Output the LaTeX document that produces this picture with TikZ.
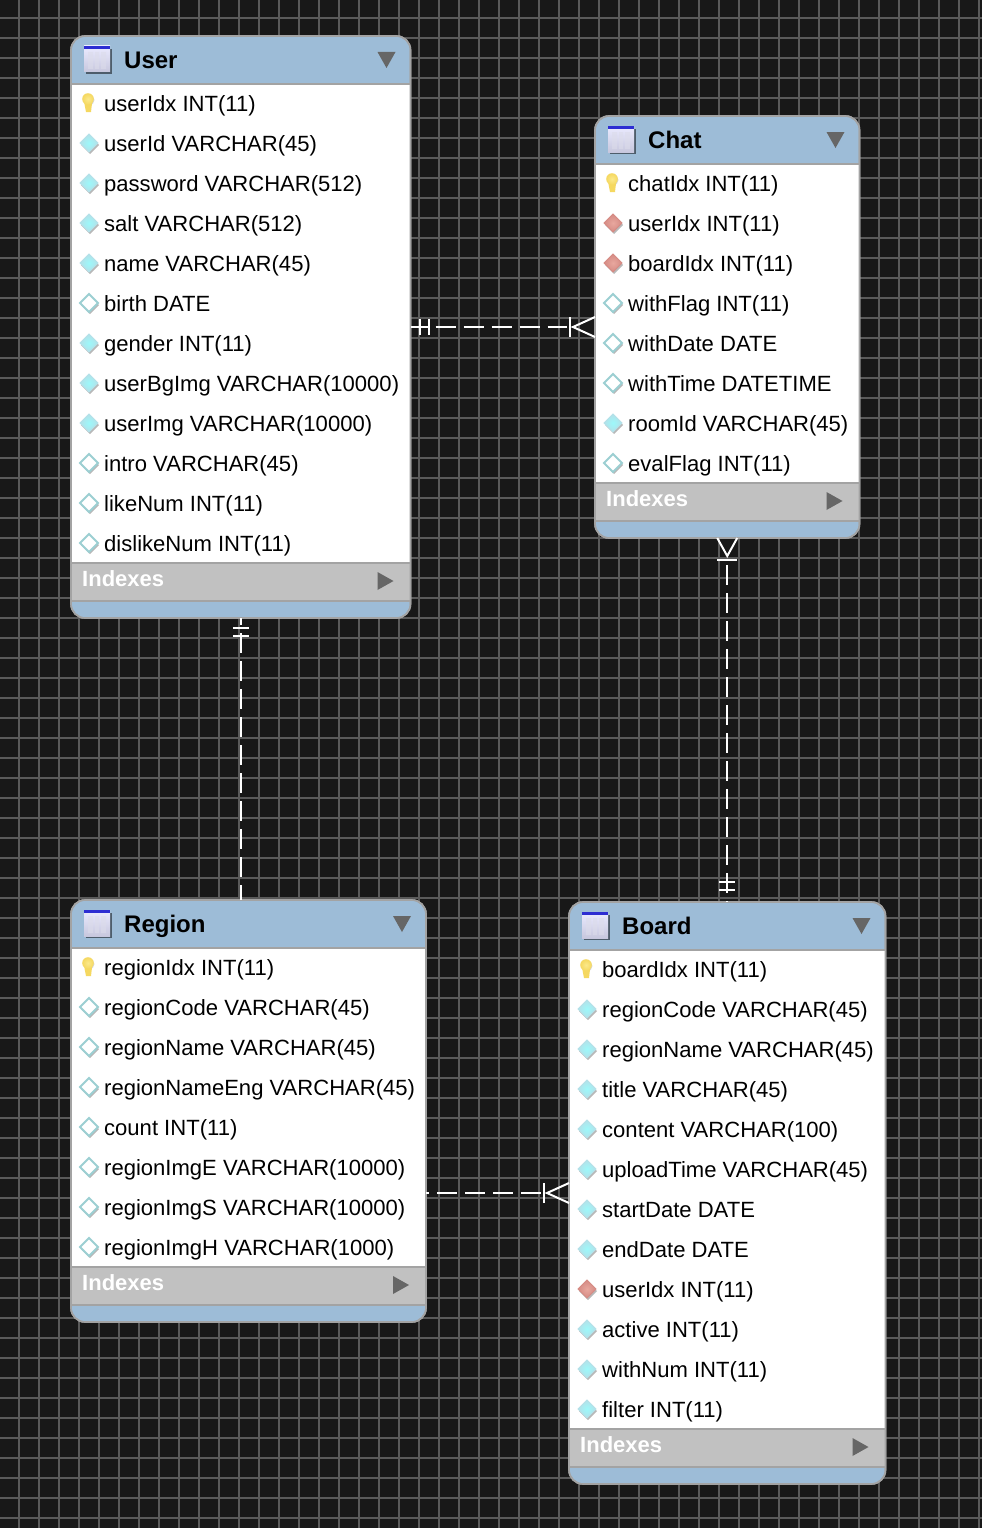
\documentclass[tikz,border=0pt]{standalone}
\usepackage{fontspec}
\setmainfont{Liberation Sans}
\usetikzlibrary{calc}
\definecolor{canvas}{HTML}{181818}
\definecolor{gridline}{HTML}{5A5A5A}
\definecolor{headblue}{HTML}{9DBCD7}
\definecolor{rimgray}{HTML}{A3A3A3}
\definecolor{bandgray}{HTML}{C1C1C1}
\definecolor{arrowgray}{HTML}{666666}
\definecolor{cyanmid}{HTML}{9CF8FA}
\definecolor{cyanrim}{HTML}{B4E0E8}
\definecolor{tealrim}{HTML}{9CCFD2}
\definecolor{redmid}{HTML}{E8A79E}
\definecolor{redrim}{HTML}{D58B84}
\definecolor{keylight}{HTML}{FBE98A}
\definecolor{keydark}{HTML}{F5D860}
\tikzset{
  x=1pt,y=-1pt,
  tablebox/.style={draw=rimgray,line width=1.6pt,fill=headblue,rounded corners=14pt,inner sep=0pt,outer sep=0pt,anchor=north west},
  titletext/.style={anchor=base west,inner sep=0pt,font=\fontsize{24}{28}\selectfont\bfseries,text=black},
  rowtext/.style={anchor=base west,inner sep=0pt,font=\fontsize{22.05}{27}\selectfont,text=black},
  indextext/.style={anchor=base west,inner sep=0pt,font=\fontsize{22}{26}\selectfont\bfseries,text=white},
  relline/.style={draw=white,line width=2pt},
  reldash/.style={relline,dash pattern=on 20pt off 8pt},
}
\newcommand\dshape[3]{\path[#3] (#1-9,#2) -- (#1,#2-9) -- (#1+9,#2) -- (#1,#2+9) -- cycle;}
\newcommand\dshadow[2]{\fill[black,opacity=.28] (#1-8,#2+2) -- (#1+1,#2-7) -- (#1+10,#2+2) -- (#1+1,#2+11) -- cycle;}
\newcommand\rowf[2]{\dshadow{#1}{#2}\dshape{#1}{#2}{shade,inner color=cyanmid,outer color=cyanrim,draw=cyanrim,line width=.8pt}}
\newcommand\rowe[2]{\dshadow{#1}{#2}\dshape{#1}{#2}{fill=white,draw=tealrim,line width=1.8pt}}
\newcommand\rowr[2]{\dshadow{#1}{#2}\dshape{#1}{#2}{shade,inner color=redmid,outer color=redrim,draw=redrim,line width=.8pt}}
\newcommand\rowk[2]{%
  \fill[black,opacity=.15] (#1,#2-3) circle (5.5);
  \fill[keydark] (#1-5.5,#2-4) -- (#1+3.5,#2-4) -- (#1+2,#2+9) -- (#1-3,#2+9) -- cycle;
  \shade[inner color=keylight,outer color=keydark] (#1-1,#2-4) circle (5.8);
}
\newcommand\tableicon[2]{%
  \fill[black,opacity=.5] (#1+2,#2+3) rectangle (#1+28,#2+28);
  \shade[top color=blue!8!white,bottom color=blue!25!gray!35!white] (#1,#2) rectangle (#1+26,#2+26);
  \fill[blue!65!gray] (#1,#2) rectangle (#1+26,#2+3);
  \fill[blue!25!gray!22!white,opacity=.55] (#1+4,#2+6) rectangle (#1+9,#2+23) (#1+11,#2+6) rectangle (#1+15,#2+23) (#1+17,#2+6) rectangle (#1+22,#2+23);
}
% name, x0, x1, top, rows count, title, rows
\newcommand\ertable[7]{%
  \pgfmathsetmacro\ha{102+40*#5}
  \pgfmathsetmacro\wa{#3-#2}
  \pgfmathsetmacro\yw{#4+46+40*#5}
  \node[tablebox,minimum width=\wa pt,minimum height=\ha pt] (#1) at (#2,#4) {};
  \begin{scope}
    \clip[rounded corners=14pt] (#2,#4) rectangle (#3,#4+\ha);
    \fill[white] (#2,#4+48) rectangle (#3,\yw);
    \fill[bandgray] (#2,\yw) rectangle (#3,\yw+38);
    \draw[rimgray,line width=2pt] (#2,#4+48) -- (#3,#4+48) (#2,\yw+1) -- (#3,\yw+1) (#2,\yw+39) -- (#3,\yw+39);
  \end{scope}
  \draw[rimgray,line width=1.6pt,rounded corners=14pt] (#2,#4) rectangle (#3,#4+\ha);
  \tableicon{#2+13}{#4+10}
  \node[titletext] (#1-title) at (#2+53,#4+32) {#6};
  \fill[arrowgray] (#3-33,#4+16) -- (#3-15,#4+16) -- (#3-24,#4+32) -- cycle;
  \foreach \kk/\txt [count=\ii] in {#7}{
    \pgfmathsetmacro\yc{#4+67+40*(\ii-1)}
    \csname row\kk\endcsname{#2+18}{\yc}
    \node[rowtext] (#1-r\ii) at (#2+33,\yc+8) {\txt};
  }
  \node[indextext] (#1-idx) at (#2+11,\yw+24) {Indexes};
  \fill[arrowgray] (#3-33,\yw+10) -- (#3-17,\yw+19) -- (#3-33,\yw+28) -- cycle;
}
\begin{document}
\begin{tikzpicture}
\useasboundingbox (0,0) rectangle (982,1528);
\fill[canvas] (0,0) rectangle (982,1528);
\foreach \gx in {0,...,48} \draw[gridline,line width=2pt] (19+20*\gx,0) -- (19+20*\gx,1528);
\foreach \gy in {0,...,75} \draw[gridline,line width=2pt] (0,18+20*\gy) -- (982,18+20*\gy);

\ertable{user}{71}{410.5}{36}{12}{User}{k/userIdx INT(11),f/userId VARCHAR(45),f/password VARCHAR(512),f/salt VARCHAR(512),f/name VARCHAR(45),e/birth DATE,f/gender INT(11),f/userBgImg VARCHAR(10000),f/userImg VARCHAR(10000),e/intro VARCHAR(45),e/likeNum INT(11),e/dislikeNum INT(11)}
\ertable{chat}{595}{859.5}{116}{8}{Chat}{k/chatIdx INT(11),r/userIdx INT(11),r/boardIdx INT(11),e/withFlag INT(11),e/withDate DATE,e/withTime DATETIME,f/roomId VARCHAR(45),e/evalFlag INT(11)}
\ertable{region}{71}{426}{900}{8}{Region}{k/regionIdx INT(11),e/regionCode VARCHAR(45),e/regionName VARCHAR(45),e/regionNameEng VARCHAR(45),e/count INT(11),e/regionImgE VARCHAR(10000),e/regionImgS VARCHAR(10000),e/regionImgH VARCHAR(1000)}
\ertable{board}{569}{885.5}{902}{12}{Board}{k/boardIdx INT(11),f/regionCode VARCHAR(45),f/regionName VARCHAR(45),f/title VARCHAR(45),f/content VARCHAR(100),f/uploadTime VARCHAR(45),f/startDate DATE,f/endDate DATE,r/userIdx INT(11),f/active INT(11),f/withNum INT(11),f/filter INT(11)}

% User -- Chat
\draw[reldash,dash phase=3pt] (user.east) -- ($(chat.west)+(-28,0)$);
\draw[relline] ($(user.east)+(9,-8)$) -- ++(0,16);
\draw[relline] ($(user.east)+(18,-8)$) -- ++(0,16);
\draw[relline] ($(chat.west)+(-25,-10)$) -- ++(0,20);
\draw[relline] ($(chat.west)+(0,-10)$) -- ($(chat.west)+(-22,0)$) -- ($(chat.west)+(0,10)$);

% User -- Region
\draw[reldash,dash phase=13pt] (user.south) -- (user.south |- region.north);
\draw[relline] ($(user.south)+(-8,10)$) -- ++(16,0);
\draw[relline] ($(user.south)+(-8,18)$) -- ++(16,0);

% Chat -- Board
\draw[reldash] ($(chat.south)+(0,27)$) -- (board.north);
\draw[relline] ($(chat.south)+(-10,22)$) -- ++(20,0);
\draw[relline] ($(chat.south)+(-10,0)$) -- ($(chat.south)+(0,18)$) -- ($(chat.south)+(10,0)$);
\draw[relline] ($(board.north)+(-8,-20)$) -- ++(16,0);
\draw[relline] ($(board.north)+(-8,-12)$) -- ++(16,0);

% Region -- Board
\draw[reldash,dash phase=17pt] (region.east |- board.west) -- ($(board.west)+(-28,0)$);
\draw[relline] ($(board.west)+(-25,-10)$) -- ++(0,20);
\draw[relline] ($(board.west)+(0,-10)$) -- ($(board.west)+(-22,0)$) -- ($(board.west)+(0,10)$);
\end{tikzpicture}
\end{document}
